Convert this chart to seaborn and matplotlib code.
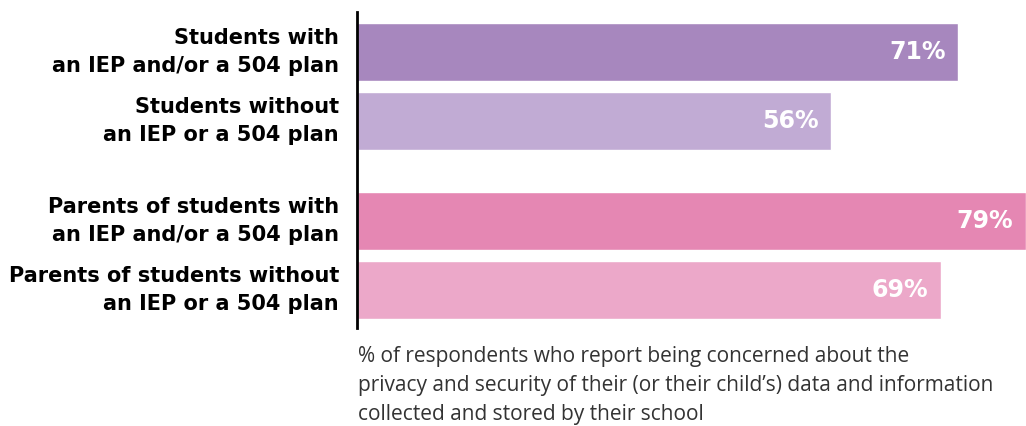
import matplotlib
matplotlib.use('Agg')
import matplotlib.pyplot as plt
import seaborn as sns
import pandas as pd

# data
groups = ['Students with\nan IEP and/or a 504 plan',
          'Students without\nan IEP or a 504 plan',
          'Parents of students with\nan IEP and/or a 504 plan',
          'Parents of students without\nan IEP or a 504 plan']
values = [71, 56, 79, 69]
positions = [0, 1, 2.45, 3.45]
colors = ['#A787BE', '#C1ABD4', '#E587B3', '#ECA8C9']
caption = ('% of respondents who report being concerned about the\n'
           'privacy and security of their (or their child\u2019s) data and information\n'
           'collected and stored by their school')

sns.set_style('white')
plt.rcParams['font.family'] = ['Open Sans', 'DejaVu Sans']

df = pd.DataFrame({'group': groups, 'value': values, 'pos': positions})

fig = plt.figure(figsize=(10.26, 4.26), dpi=100)
ax = fig.add_axes([357 / 1026, 98 / 426, 1 - 357 / 1026, 316 / 426])
sns.barplot(data=df, x='value', y='pos', hue='group', palette=colors, orient='h',
            native_scale=True, width=0.84, legend=False, saturation=1, ax=ax)

ax.set_xlim(0, 79)
ax.set_ylim(4.0, -0.58)
ax.set_yticks(positions)
ax.set_yticklabels(groups, fontsize=15, fontweight='bold', color='black',
                   family='DejaVu Sans', linespacing=1.5, va='center')
ax.tick_params(axis='y', length=0, pad=13)
ax.set_xticks([])
ax.set_xlabel('')
ax.set_ylabel('')
for side in ['top', 'right', 'bottom']:
    ax.spines[side].set_visible(False)
ax.spines['left'].set_linewidth(2)
ax.spines['left'].set_color('black')

for v, p in zip(values, positions):
    ax.text(v - 1.5, p, f'{v}%', color='white', fontsize=17, fontweight='bold',
            family='DejaVu Sans', ha='right', va='center')

fig.text(358 / 1026, 1 - 346 / 426, caption, fontsize=15, color='#333333',
         ha='left', va='top', linespacing=1.5)

fig.savefig('out.png', dpi=100)
